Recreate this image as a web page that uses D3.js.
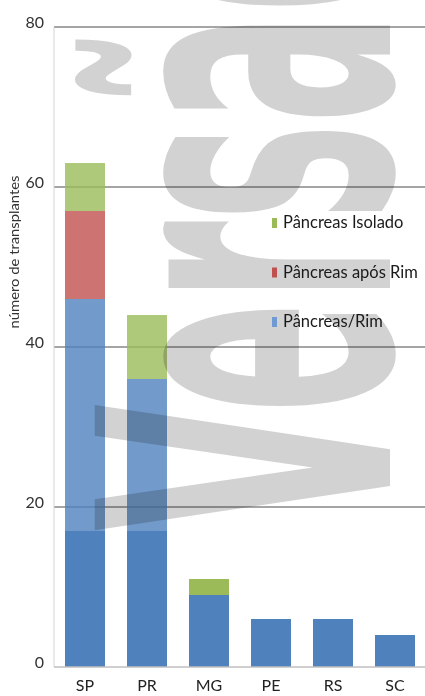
<!DOCTYPE html>
<html>
<head>
<meta charset="utf-8">
<script src="https://cdn.jsdelivr.net/npm/d3@7"></script>
<style>
  html, body { margin: 0; padding: 0; background: #ffffff; }
  svg { display: block; }
</style>
</head>
<body>
<svg id="chart" width="425" height="696"></svg>
<script>
// ---- data ----
const categories = ["SP", "PR", "MG", "PE", "RS", "SC"];
const pancreasRimLower = [17, 17, 9, 6, 6, 4];
const pancreasRimUpper = [29, 19, 0, 0, 0, 0];
const pancreasAposRim = [11, 0, 0, 0, 0, 0];
const pancreasIsolado = [6, 8, 2, 0, 0, 0];
const yTicks = [0, 20, 40, 60, 80];
const seriesKeys = ["lower", "upper", "apos", "isolado"];
const seriesColors = ["#4f81bd", "#4f81bd", "#c0504d", "#9bbb59"];
const legendLabels = ["Pâncreas Isolado", "Pâncreas após Rim", "Pâncreas/Rim"];
const legendColors = ["#9bbb59", "#c0504d", "#6f9bd2"];
const yTitle = "número de transplantes";
const watermarkText = "Versão";
const fadeFrom = 17;

// ---- layout ----
const svg = d3.select("#chart");
const plotLeft = 54, plotRight = 426, plotTop = 27, plotBottom = 667;
const font = "Lato, 'Open Sans', sans-serif";

const table = categories.map((c, i) => ({
  cat: c,
  lower: pancreasRimLower[i],
  upper: pancreasRimUpper[i],
  apos: pancreasAposRim[i],
  isolado: pancreasIsolado[i]
}));
const stacked = d3.stack().keys(seriesKeys)(table);

const x = d3.scaleBand().domain(categories).range([plotLeft, plotRight])
  .paddingInner(0.355).paddingOuter(0.1775);
const y = d3.scaleLinear().domain([0, 80]).range([plotBottom, plotTop]);

// gridlines
svg.append("g").selectAll("line").data(yTicks.filter(t => t > 0)).join("line")
  .attr("x1", plotLeft).attr("x2", 425)
  .attr("y1", d => y(d)).attr("y2", d => y(d))
  .attr("stroke", "#878787").attr("stroke-width", 1.4);

// left axis line
svg.append("line").attr("x1", plotLeft).attr("x2", plotLeft)
  .attr("y1", y(80)).attr("y2", y(0))
  .attr("stroke", "#d4d4d4").attr("stroke-width", 1);

// bars
svg.append("g").selectAll("g").data(stacked).join("g")
  .attr("fill", (d, i) => seriesColors[i])
  .selectAll("rect").data(d => d).join("rect")
  .attr("x", d => x(d.data.cat))
  .attr("width", x.bandwidth())
  .attr("y", d => y(d[1]))
  .attr("height", d => y(d[0]) - y(d[1]))
  .attr("fill-opacity", d => d[0] >= fadeFrom ? 0.8 : 1);

// watermark (multiplied over the chart)
svg.append("text")
  .attr("transform", "translate(390,531) rotate(-90) scale(1.64,4.05)")
  .attr("font-family", "'DejaVu Sans', sans-serif")
  .attr("font-weight", "bold")
  .attr("font-size", 100)
  .attr("fill", "#d2d2d2")
  .style("mix-blend-mode", "multiply")
  .text(watermarkText);

// baseline
svg.append("line").attr("x1", plotLeft).attr("x2", 425)
  .attr("y1", y(0)).attr("y2", y(0))
  .attr("stroke", "#bfbfbf").attr("stroke-width", 1.3);

// y axis labels
const yAxis = svg.append("g").attr("transform", `translate(${plotLeft},0)`)
  .call(d3.axisLeft(y).tickValues(yTicks).tickSize(0).tickPadding(10));
yAxis.select(".domain").remove();
yAxis.selectAll("text").attr("font-family", font).attr("font-size", 16)
  .attr("fill", "#333").attr("y", -5);

// x axis labels
const xAxis = svg.append("g").attr("transform", `translate(0,${plotBottom})`)
  .call(d3.axisBottom(x).tickSize(0).tickPadding(13));
xAxis.select(".domain").remove();
xAxis.selectAll("text").attr("font-family", font).attr("font-size", 16)
  .attr("fill", "#222");

// y title
svg.append("text")
  .attr("transform", "translate(19,252) rotate(-90)")
  .attr("text-anchor", "middle")
  .attr("font-family", font).attr("font-size", 12.5).attr("fill", "#333")
  .attr("textLength", 153).attr("lengthAdjust", "spacingAndGlyphs")
  .text(yTitle);

// legend
const legend = svg.append("g").selectAll("g").data(legendLabels).join("g")
  .attr("transform", (d, i) => `translate(272,${228 + i * 49.5})`);
legend.append("rect").attr("x", 0).attr("y", -10).attr("width", 5).attr("height", 10)
  .attr("fill", (d, i) => legendColors[i]);
legend.append("text").attr("x", 11).attr("y", 0)
  .attr("font-family", font).attr("font-size", 16.5).attr("fill", "#1a1a1a")
  .text(d => d);
</script>
</body>
</html>
